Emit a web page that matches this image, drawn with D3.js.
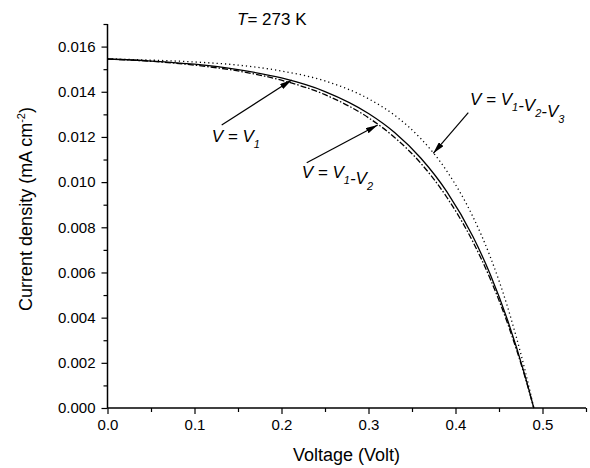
<!DOCTYPE html>
<html>
<head>
<meta charset="utf-8">
<script src="https://cdn.jsdelivr.net/npm/d3@7/dist/d3.min.js"></script>
<style>
  body { margin: 0; background: #fff; }
  text { font-family: Arial, "Liberation Sans", sans-serif; fill: #000; }
</style>
</head>
<body>
<div id="chart"></div>
<script>
// voltage samples (Volt)
var voltage = [0, 0.05, 0.10, 0.15, 0.20, 0.25, 0.30, 0.33, 0.36, 0.39, 0.42, 0.44, 0.46, 0.48, 0.49];
// current density (mA cm-2)
var jV1       = [0.01545, 0.01536, 0.01522, 0.01498, 0.01461, 0.01401, 0.01304, 0.01220, 0.01107, 0.00958, 0.00759, 0.00591, 0.00387, 0.00141, 0];
var jV1V2     = [0.01545, 0.01535, 0.01518, 0.01492, 0.01451, 0.01387, 0.01285, 0.01198, 0.01084, 0.00933, 0.00736, 0.00571, 0.00373, 0.00136, 0];
var jV1V2V3   = [0.01545, 0.01540, 0.01532, 0.01518, 0.01492, 0.01448, 0.01369, 0.01296, 0.01193, 0.01049, 0.00847, 0.00669, 0.00445, 0.00165, 0];

var xTicks = [0, 0.1, 0.2, 0.3, 0.4, 0.5];
var yTicks = [0, 0.002, 0.004, 0.006, 0.008, 0.010, 0.012, 0.014, 0.016];

var W = 590, H = 468;
var svg = d3.select("#chart").append("svg")
    .attr("width", W).attr("height", H);

var x = d3.scaleLinear().domain([0, 0.55]).range([107.5, 586]);
var y = d3.scaleLinear().domain([0, 0.017]).range([408, 24]);

// minor ticks
var xMinor = d3.range(0.05, 0.56, 0.1);
var yMinor = d3.range(0.001, 0.0175, 0.002);

var xAxisG = svg.append("g").attr("transform", "translate(0,408)");
xAxisG.call(d3.axisBottom(x).tickValues(xTicks).tickSize(6).tickPadding(5)
    .tickFormat(d3.format(".1f")));
xAxisG.append("g").call(d3.axisBottom(x).tickValues(xMinor).tickSize(4).tickFormat(""))
    .select(".domain").remove();

var yAxisG = svg.append("g").attr("transform", "translate(107.5,0)");
yAxisG.call(d3.axisLeft(y).tickValues(yTicks).tickSize(6).tickPadding(6)
    .tickFormat(d3.format(".3f")));
yAxisG.append("g").call(d3.axisLeft(y).tickValues(yMinor).tickSize(4).tickFormat(""))
    .select(".domain").remove();

svg.selectAll(".domain").attr("stroke-width", 1.5);
svg.selectAll(".tick line").attr("stroke-width", 1.2);
svg.selectAll(".tick text").style("font-size", "15px").style("font-family", "Arial, 'Liberation Sans', sans-serif");
xAxisG.selectAll(".domain").attr("d", "M107.5,0H586");
yAxisG.selectAll(".domain").attr("d", "M0,408V24");

// axis titles
svg.append("text").attr("x", 346.5).attr("y", 461).attr("text-anchor", "middle")
    .style("font-size", "18px").text("Voltage (Volt)");

var yl = svg.append("text").attr("transform", "translate(32,209) rotate(-90)")
    .attr("text-anchor", "middle").style("font-size", "18px");
yl.append("tspan").text("Current density (mA cm");
yl.append("tspan").attr("dy", -7).style("font-size", "11px").text("-2");
yl.append("tspan").attr("dy", 7).text(")");

// title
var t = svg.append("text").attr("x", 237).attr("y", 25).style("font-size", "17px");
t.append("tspan").style("font-style", "italic").text("T");
t.append("tspan").text("= 273 K");

// curves
var series = [
  { v: jV1, dash: null },
  { v: jV1V2, dash: "6,2,1.5,2" },
  { v: jV1V2V3, dash: "1.2,3" }
];
var line = d3.line()
    .x(function(d) { return x(d[0]); })
    .y(function(d) { return y(d[1]); })
    .curve(d3.curveMonotoneX);

series.forEach(function(s) {
  svg.append("path")
    .datum(voltage.map(function(v, i) { return [v, s.v[i]]; }))
    .attr("fill", "none")
    .attr("stroke", "#000")
    .attr("stroke-width", 1.3)
    .attr("stroke-dasharray", s.dash)
    .attr("d", line);
});

// annotations
svg.append("defs").append("marker")
    .attr("id", "arr").attr("viewBox", "0 0 12 6")
    .attr("refX", 12).attr("refY", 3)
    .attr("markerWidth", 12).attr("markerHeight", 6)
    .attr("markerUnits", "userSpaceOnUse")
    .attr("orient", "auto")
  .append("path").attr("d", "M0,0L12,3L0,6Z").attr("fill", "#000");

var notes = [
  { x1: 221.7, y1: 125, x2: 291.7, y2: 80, tx: 211.7, ty: 141.7, parts: ["1"] },
  { x1: 306.7, y1: 162.7, x2: 377.7, y2: 125, tx: 301.7, ty: 178, parts: ["1", "2"] },
  { x1: 468.3, y1: 112.7, x2: 433.3, y2: 153.3, tx: 470, ty: 105, parts: ["1", "2", "3"] }
];
notes.forEach(function(n) {
  svg.append("line")
    .attr("x1", n.x1).attr("y1", n.y1).attr("x2", n.x2).attr("y2", n.y2)
    .attr("stroke", "#000").attr("stroke-width", 1.2)
    .attr("marker-end", "url(#arr)");
  var tx = svg.append("text").attr("x", n.tx).attr("y", n.ty)
    .style("font-size", "17px").style("font-style", "italic");
  tx.append("tspan").text("V = ");
  n.parts.forEach(function(p, i) {
    if (i > 0) tx.append("tspan").text("-");
    tx.append("tspan").text("V");
    tx.append("tspan").attr("dy", 6).style("font-size", "11px").text(p);
    tx.append("tspan").attr("dy", -6).text("");
  });
});
</script>
</body>
</html>
